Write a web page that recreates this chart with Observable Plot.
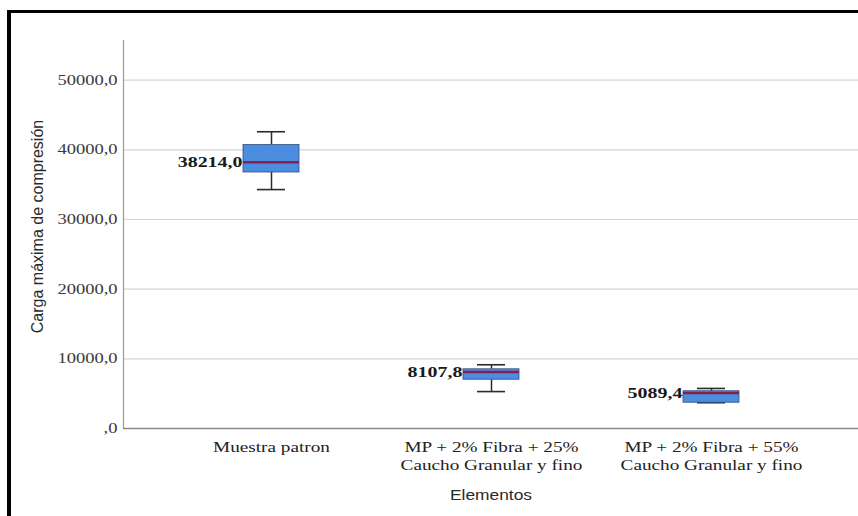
<!DOCTYPE html>
<html>
<head>
<meta charset="utf-8">
<script src="https://cdn.jsdelivr.net/npm/d3@7"></script>
<script src="https://cdn.jsdelivr.net/npm/@observablehq/plot@0.6"></script>
<style>
  html, body { margin: 0; padding: 0; background: #fff; overflow: hidden; width: 858px; height: 516px; }
  #chart { position: absolute; left: 0; top: 0; }
  #frame { position: absolute; left: 7px; top: 10px; width: 1000px; height: 1000px;
           border-top: 3px solid #000; border-left: 4px solid #000; pointer-events: none; }
</style>
</head>
<body>
<div id="chart"></div>
<div id="frame"></div>
<script>
// Groups on the x axis
const categories = [
  "Muestra patron",
  "MP + 2% Fibra + 25%\nCaucho Granular y fino",
  "MP + 2% Fibra + 55%\nCaucho Granular y fino"
];
// Five-number summaries of "Carga máxima de compresión" per group
const minimums = [34300, 5300, 3700];
const q1s      = [36750, 7000, 3700];
const medians  = [38214.0, 8107.8, 5089.4];
const q3s      = [40700, 8500, 5350];
const maximums = [42600, 9150, 5750];
// Y axis ticks
const yTicks = [0, 10000, 20000, 30000, 40000, 50000];

const boxes = categories.map((c, i) => ({
  cat: c, min: minimums[i], q1: q1s[i], median: medians[i], q3: q3s[i], max: maximums[i]
}));

const fmt = v => v === 0 ? ",0" : v.toFixed(1).replace(".", ",");
const serif = "'Liberation Serif', 'Times New Roman', serif";
const sans = "'Liberation Sans', Arial, sans-serif";

const chart = Plot.plot({
  width: 858,
  height: 516,
  marginLeft: 123,
  marginRight: 0,
  marginTop: 40,
  marginBottom: 88,
  style: { background: "transparent", overflow: "visible" },
  x: { domain: categories, paddingInner: 0.747, paddingOuter: 0.539 },
  y: { domain: [0, 55700] },
  marks: [
    Plot.gridY(yTicks, { stroke: "#d4d4d4", strokeOpacity: 1, strokeWidth: 1.2 }),
    Plot.axisY(yTicks, {
      tickSize: 0, tickPadding: 6, tickFormat: fmt, label: null,
      fontFamily: serif, fontSize: 14, fill: "#3a3a3a"
    }),
    Plot.text(["Carga máxima de compresión"], {
      frameAnchor: "left", textAnchor: "middle", rotate: -90, dx: -86, dy: -8,
      fontFamily: sans, fontSize: 16, fill: "#2a2a2a"
    }),
    Plot.axisX({
      tickSize: 0, tickPadding: 11, label: null,
      fontFamily: serif, fontSize: 15, fill: "#222", lineHeight: 1.2
    }),
    Plot.text(["Elementos"], {
      frameAnchor: "bottom", dy: 71,
      fontFamily: sans, fontSize: 14, fill: "#2a2a2a", className: "x-title"
    }),
    Plot.frame({ anchor: "left", stroke: "#9a9a9a", strokeWidth: 1.2 }),
    Plot.ruleY([0], { stroke: "#8a8a8a", strokeWidth: 1.5 }),
    // whiskers
    Plot.ruleX(boxes, { x: "cat", y1: "min", y2: "q1", stroke: "#2b2b2b", strokeWidth: 1.5 }),
    Plot.ruleX(boxes, { x: "cat", y1: "q3", y2: "max", stroke: "#2b2b2b", strokeWidth: 1.5 }),
    Plot.tickY(boxes, { x: "cat", y: "min", stroke: "#2b2b2b", strokeWidth: 1.6, insetLeft: 14, insetRight: 14 }),
    Plot.tickY(boxes, { x: "cat", y: "max", stroke: "#2b2b2b", strokeWidth: 1.6, insetLeft: 14, insetRight: 14 }),
    // boxes
    Plot.barY(boxes, { x: "cat", y1: "q1", y2: "q3", fill: "#4b8de0", stroke: "#33507a", strokeWidth: 0.8 }),
    // medians
    Plot.tickY(boxes, { x: "cat", y: "median", stroke: "#86204a", strokeWidth: 2.6 }),
    // median value labels
    Plot.text(boxes, {
      x: "cat", y: "median", text: d => fmt(d.median), textAnchor: "end", dx: -29,
      fontFamily: serif, fontSize: 15, fontWeight: "bold", fill: "#1a1a1a", className: "value-label"
    })
  ]
});

document.getElementById("chart").append(chart);

// Widen the lettering horizontally (glyphs and spacing together)
function widen(selector, k) {
  chart.querySelectorAll(selector).forEach(t => {
    const parts = t.querySelectorAll("tspan");
    const targets = parts.length ? Array.from(parts) : [t];
    targets.forEach(el => {
      const w = el.getComputedTextLength();
      el.setAttribute("textLength", (w * k).toFixed(1));
      el.setAttribute("lengthAdjust", "spacingAndGlyphs");
    });
  });
}
widen('g[aria-label="y-axis tick label"] text', 1.32);
widen('g[aria-label="x-axis tick label"] text', 1.28);
widen('g.value-label text', 1.33);
widen('g.x-title text', 1.24);
</script>
</body>
</html>
